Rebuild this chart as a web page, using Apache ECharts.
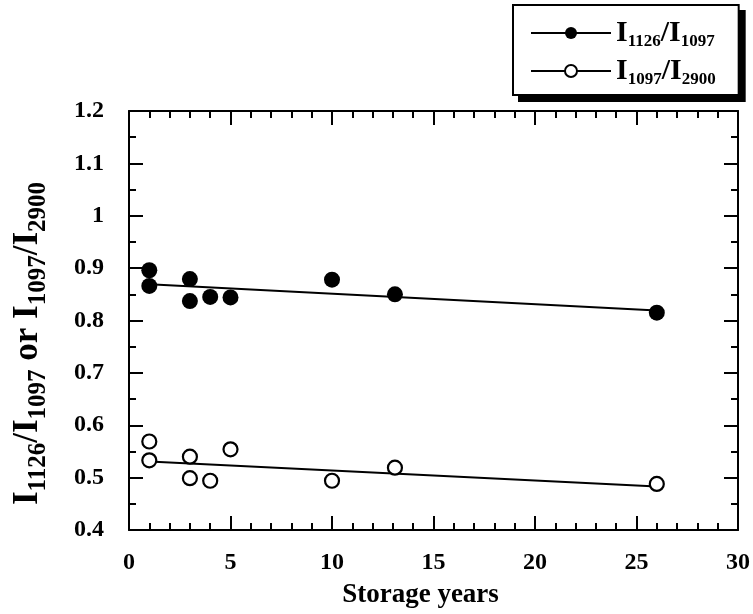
<!DOCTYPE html>
<html>
<head>
<meta charset="utf-8">
<script src="https://cdn.jsdelivr.net/npm/echarts@6/dist/echarts.min.js"></script>
<style>
html,body{margin:0;padding:0;background:#fff;}
#main{width:753px;height:614px;}
</style>
</head>
<body>
<div id="main"></div>
<script>
// data
var filledX = [1, 1, 3, 3, 4, 5, 10, 13.1, 26];
var filledY = [0.896, 0.866, 0.879, 0.837, 0.845, 0.844, 0.878, 0.850, 0.815];
var openX = [1, 1, 3, 3, 4, 5, 10, 13.1, 26];
var openY = [0.569, 0.533, 0.540, 0.499, 0.494, 0.554, 0.494, 0.519, 0.488];
// regression lines (end points)
var fitFilledX = [1, 26];
var fitFilledY = [0.869, 0.819];
var fitOpenX = [1, 26];
var fitOpenY = [0.531, 0.483];

var nameFilled = 'I1126/I1097';
var nameOpen = 'I1097/I2900';

function pairs(xs, ys){
	var out = [];
	for(var i=0;i<xs.length;i++){ out.push([xs[i], ys[i]]); }
	return out;
}

var serif = '"Liberation Serif", "DejaVu Serif", serif';

var myChart = echarts.init(document.getElementById('main'), null, {renderer:'canvas'});

// legend look, shared by the box and its black drop shadow
function legendBox(left, top, bg, z){
	return {
		orient:'vertical',
		left:left, top:top, z:z,
		padding:[13, 23, 7, 17],
		itemGap:6,
		itemWidth:80,
		itemHeight:15,
		backgroundColor:bg,
		borderColor:'#000',
		borderWidth:2,
		borderRadius:0,
		selectedMode:false,
		data:[
			{name:nameFilled, lineStyle:{color:'#000', width:2, opacity:1}},
			{name:nameOpen, lineStyle:{color:'#000', width:2, opacity:1}}
		],
		formatter:function(n){
			if(n == nameFilled){ return '{i|I}{s|1126}{i|/I}{s|1097}'; }
			return '{i|I}{s|1097}{i|/I}{s|2900}';
		},
		textStyle:{
			color:'#000',
			fontFamily:serif,
			fontWeight:'bold',
			rich:{
				i:{fontSize:30, lineHeight:30, fontWeight:'bold', fontFamily:serif, color:'#000', verticalAlign:'top'},
				s:{fontSize:17, lineHeight:17, fontWeight:'bold', fontFamily:serif, color:'#000', verticalAlign:'top', padding:[15,0,0,0]}
			}
		}
	};
}

var option = {
	backgroundColor:'#fff',
	animation:false,
	grid:{left:129, right:13, top:111, bottom:84, show:false},
	legend:[legendBox(519, 11, '#000', 4), legendBox(513, 5, '#fff', 6)],
	xAxis:[{
		type:'value', min:0, max:30, interval:5,
		name:'Storage years', nameLocation:'middle', nameGap:52,
		nameTextStyle:{fontFamily:serif, fontWeight:'bold', fontSize:27, color:'#000', padding:[0,26,0,0]},
		axisLine:{onZero:false, lineStyle:{color:'#000', width:2}},
		axisTick:{inside:true, length:14, lineStyle:{color:'#000', width:2}},
		minorTick:{show:true, splitNumber:5, length:7, lineStyle:{color:'#000', width:2}},
		axisLabel:{margin:21, fontFamily:serif, fontWeight:'bold', fontSize:24, color:'#000'},
		splitLine:{show:false}
	},{
		type:'value', min:0, max:30, interval:5, position:'top',
		axisLine:{onZero:false, lineStyle:{color:'#000', width:2}},
		axisTick:{inside:true, length:14, lineStyle:{color:'#000', width:2}},
		minorTick:{show:true, splitNumber:5, length:7, lineStyle:{color:'#000', width:2}},
		axisLabel:{show:false},
		splitLine:{show:false}
	}],
	yAxis:[{
		type:'value', min:0.4, max:1.2, interval:0.1,
		name:'{i|I}{s|1126}{i|/I}{s|1097}{i| or I}{s|1097}{i|/I}{s|2900}',
		nameLocation:'middle', nameGap:84,
		nameTextStyle:{
			color:'#000', fontFamily:serif, fontWeight:'bold',
			padding:[0,46,0,0],
			rich:{
				i:{fontSize:35, lineHeight:35, fontWeight:'bold', fontFamily:serif, color:'#000', verticalAlign:'top'},
				s:{fontSize:25, lineHeight:25, fontWeight:'bold', fontFamily:serif, color:'#000', verticalAlign:'top', padding:[16,0,0,0]}
			}
		},
		axisLine:{onZero:false, lineStyle:{color:'#000', width:2}},
		axisTick:{inside:true, length:14, lineStyle:{color:'#000', width:2}},
		minorTick:{show:true, splitNumber:2, length:7, lineStyle:{color:'#000', width:2}},
		axisLabel:{margin:25, fontFamily:serif, fontWeight:'bold', fontSize:24, color:'#000',
			formatter:function(v){ return Math.abs(v-1) < 1e-9 ? '1' : v.toFixed(1); }},
		splitLine:{show:false}
	},{
		type:'value', min:0.4, max:1.2, interval:0.1, position:'right',
		axisLine:{onZero:false, lineStyle:{color:'#000', width:2}},
		axisTick:{inside:true, length:14, lineStyle:{color:'#000', width:2}},
		minorTick:{show:true, splitNumber:2, length:7, lineStyle:{color:'#000', width:2}},
		axisLabel:{show:false},
		splitLine:{show:false}
	}],
	series:[
		{
			name:'fitFilled', type:'line', data:pairs(fitFilledX, fitFilledY),
			symbol:'none', lineStyle:{color:'#000', width:2}, z:1
		},
		{
			name:'fitOpen', type:'line', data:pairs(fitOpenX, fitOpenY),
			symbol:'none', lineStyle:{color:'#000', width:2}, z:1
		},
		{
			name:nameFilled, type:'line', data:pairs(filledX, filledY),
			symbol:'circle', symbolSize:16,
			itemStyle:{color:'#000', borderColor:'#000', borderWidth:0},
			lineStyle:{opacity:0}, z:3
		},
		{
			name:nameOpen, type:'line', data:pairs(openX, openY),
			symbol:'circle', symbolSize:14,
			itemStyle:{color:'#fff', borderColor:'#000', borderWidth:2.2},
			lineStyle:{opacity:0}, z:3
		}
	]
};

myChart.setOption(option);
</script>
</body>
</html>
